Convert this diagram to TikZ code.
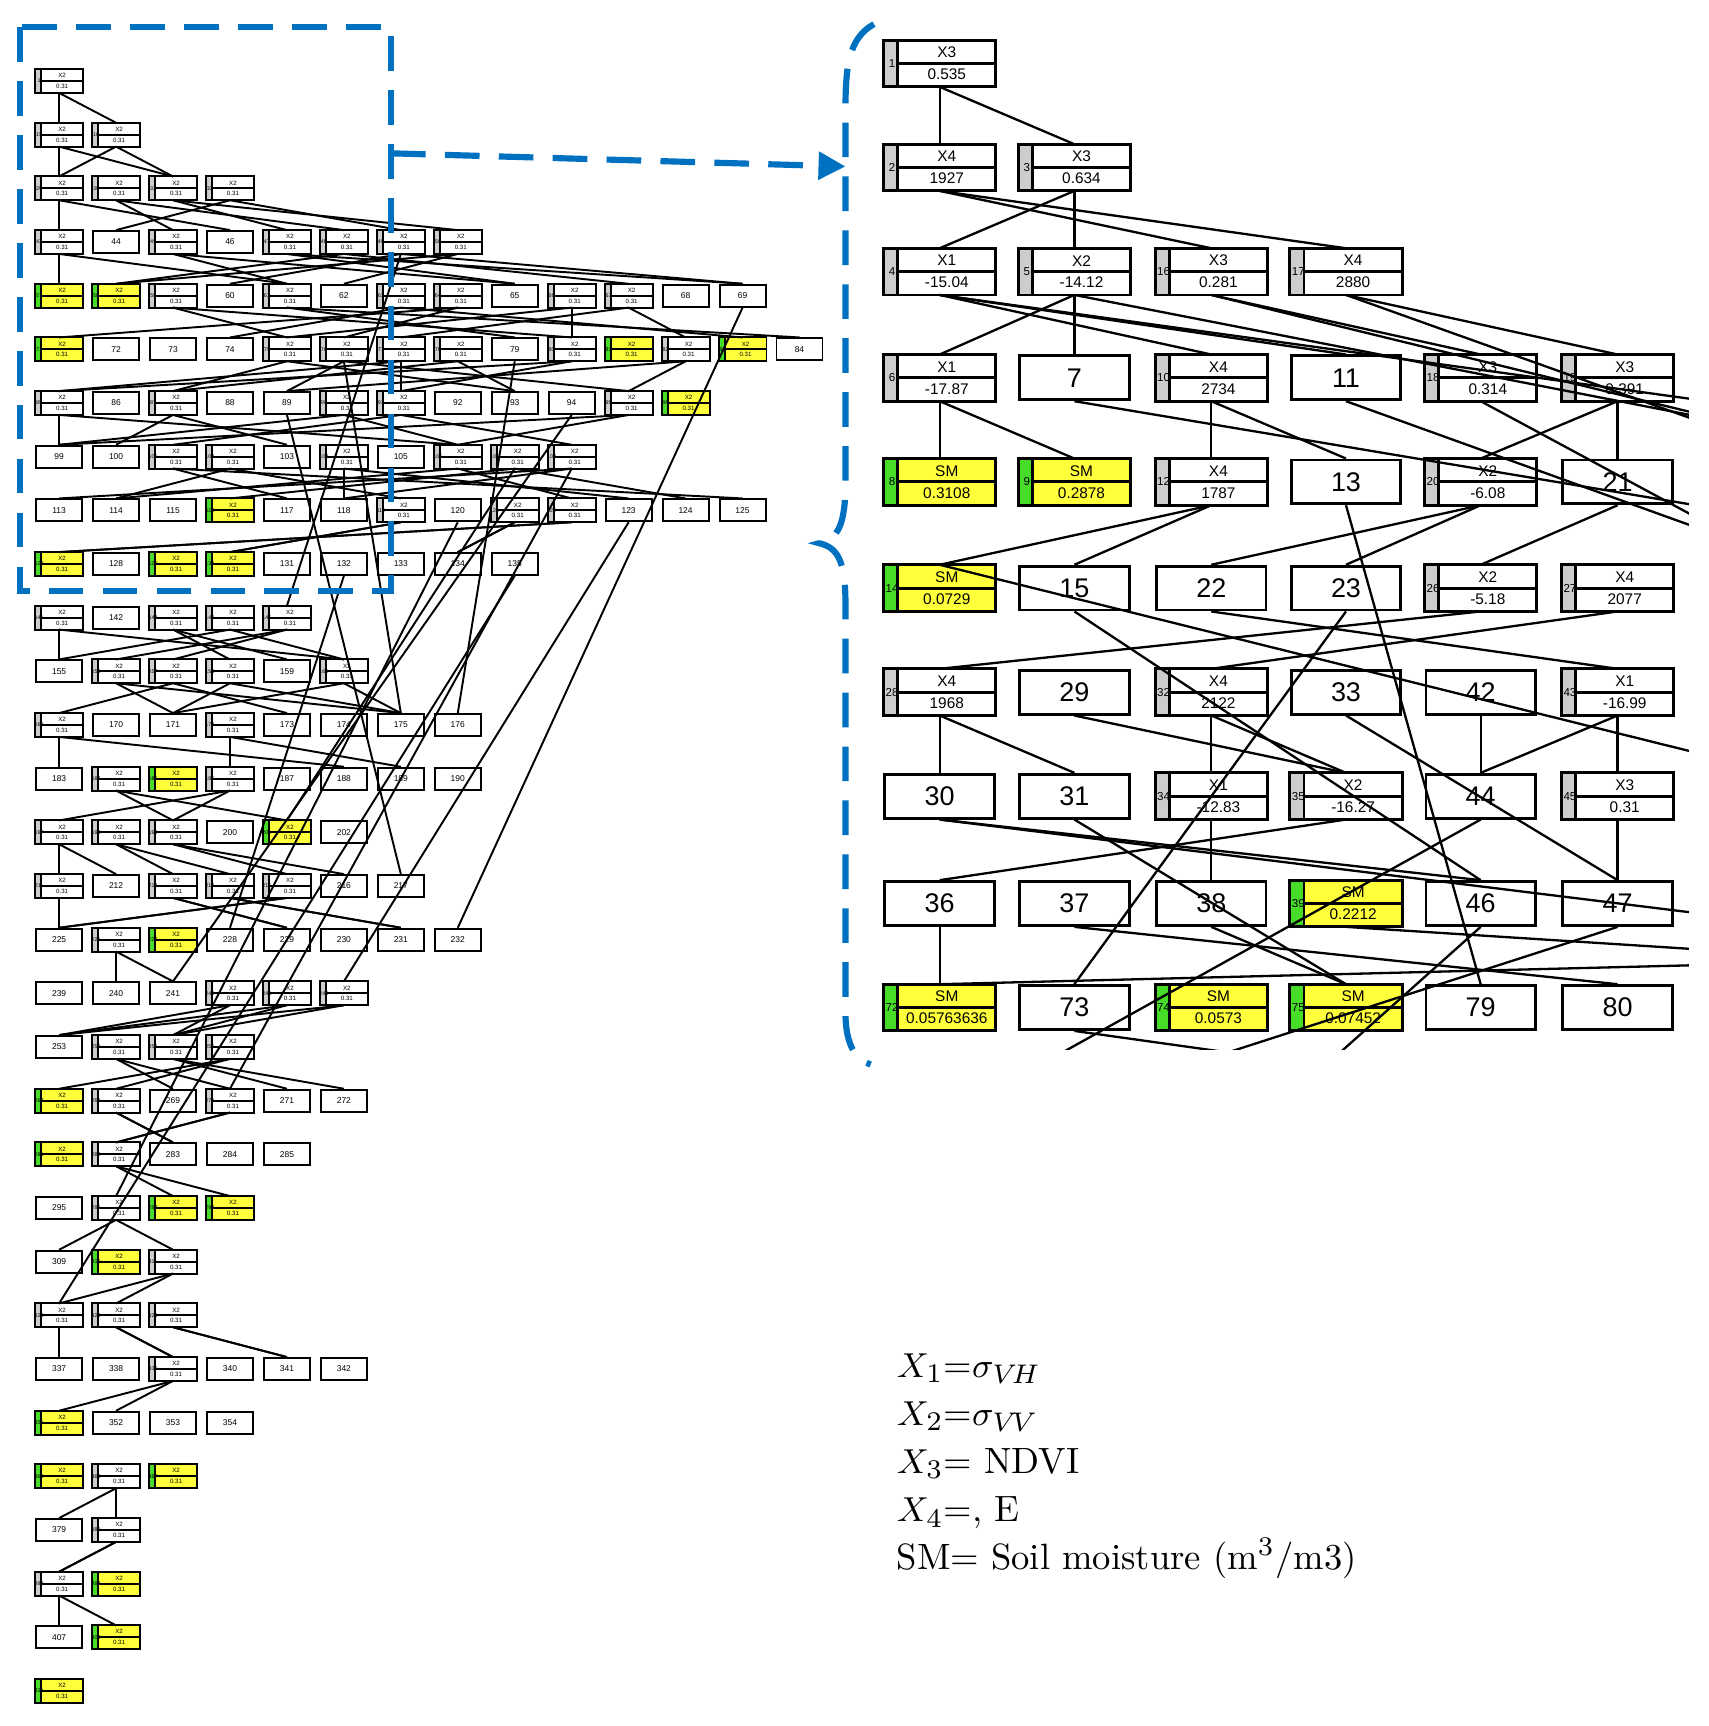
\documentclass[tikz,border=0pt]{standalone}
\usepackage{fontspec}
\setsansfont{Liberation Sans}
\usetikzlibrary{arrows.meta}
\definecolor{dblue}{RGB}{0,112,192}
\definecolor{bxyel}{RGB}{255,255,60}
\definecolor{bxgrn}{RGB}{70,220,40}
\definecolor{bxgry}{RGB}{205,205,205}
\def\tyP{p}\def\tyG{g}\def\tyY{y}
\def\bxfs{6}\def\bxfss{3.6}\def\bxfsn{3}
% name, cx, cy, w, h, type, num, top, bottom
\newcommand\bx[9]{%
  \edef\bxtype{#6}%
  \ifx\bxtype\tyP
    \node[draw,fill=white,minimum width={#4*0.01cm},minimum height={#5*0.01cm},inner sep=0pt,
      font=\sffamily\fontsize{\bxfs}{\bxfs}\selectfont] (#1) at (#2,#3) {#7};
  \else
    \ifx\bxtype\tyY\def\bxmain{bxyel}\def\bxstrip{bxgrn}\else\def\bxmain{white}\def\bxstrip{bxgry}\fi
    \node[fill=\bxmain,minimum width={#4*0.01cm},minimum height={#5*0.01cm},inner sep=0pt] (#1) at (#2,#3) {};
    \fill[\bxstrip] (#1.north west) rectangle ([xshift={#4*0.0013cm}]#1.south west);
    \draw ([xshift={#4*0.0013cm}]#1.north west) -- ([xshift={#4*0.0013cm}]#1.south west);
    \draw ([xshift={#4*0.0013cm}]#1.west) -- (#1.east);
    \draw (#1.north west) rectangle (#1.south east);
    \node[font=\sffamily\fontsize{\bxfsn}{\bxfsn}\selectfont,inner sep=0pt] (#1n) at ({#2-#4/2+#4*0.065},#3) {#7};
    \node[font=\sffamily\fontsize{\bxfss}{\bxfss}\selectfont,inner sep=0pt] (#1t) at ({#2+#4*0.065},{#3-#5/4}) {#8};
    \node[font=\sffamily\fontsize{\bxfss}{\bxfss}\selectfont,inner sep=0pt] (#1b) at ({#2+#4*0.065},{#3+#5/4}) {#9};
  \fi}
\def\counts{{1,2,4,8,13,14,12,10,13,9,5,6,8,8,6,7,8,6,4,6,5,4,3,3,6,4,3,2,2,2,1}}
\newcommand\leftrow[2]{\foreach \t [count=\c from 0] in {#2}{%
  \pgfmathsetmacro\cx{54+52*\c}\pgfmathsetmacro\cy{74+49*#1}\pgfmathtruncatemacro\nm{#1*14+\c+1}%
  \bx{L#1-\c}{\cx}{\cy}{42}{20}{\t}{\nm}{X2}{0.31}}}
\newcommand\leftedges[2]{\foreach \t [count=\c from 0] in {#2}{%
  \if\t g%
    \pgfmathtruncatemacro\nn{\counts[#1+1]}%
    \pgfmathtruncatemacro\rn{#1+1}%
    \pgfmathtruncatemacro\ka{mod(2*\c,\nn)}%
    \pgfmathtruncatemacro\kb{mod(2*\c+1+#1,\nn)}%
    \draw[edge] (L#1-\c.south) -- (L\rn-\ka.north);
    \draw[edge] (L#1-\c.south) -- (L\rn-\kb.north);
  \fi}}
\def\rcx{{858,981,1106,1229,1352,1477}}
\def\rcy{{58,153,248,345,440,537,632,727,825,920}}
\newcommand\RC[7]{\pgfmathsetmacro\cx{\rcx[#2]}\pgfmathsetmacro\cy{\rcy[#3]}%
  \bx{R#1}{\cx}{\cy}{100}{40}{#4}{#5}{#6}{#7}}
\begin{document}
\begin{tikzpicture}[x=0.01cm,y=-0.01cm,edge/.style={line width=0.5pt},line width=0.5pt]
\useasboundingbox (0,0) rectangle (1560,1576);
% ---------- left overview ----------
\begin{scope}
\def\bxfs{2.2}\def\bxfss{1.6}\def\bxfsn{1.4}
\leftrow{0}{g}
\leftrow{1}{g,g}
\leftrow{2}{g,g,g,g}
\leftrow{3}{g,p,g,p,g,g,g,g}
\leftrow{4}{y,y,g,p,g,p,g,g,p,g,g,p,p}
\leftrow{5}{y,p,p,p,g,g,g,g,p,g,y,g,y,p}
\leftrow{6}{g,p,g,p,p,g,g,p,p,p,g,y}
\leftrow{7}{p,p,g,g,p,g,p,g,g,g}
\leftrow{8}{p,p,p,y,p,p,g,p,g,g,p,p,p}
\leftrow{9}{y,p,y,y,p,p,p,p,p}
\leftrow{10}{g,p,g,g,g}
\leftrow{11}{p,g,g,g,p,g}
\leftrow{12}{g,p,p,g,p,p,p,p}
\leftrow{13}{p,g,y,g,p,p,p,p}
\leftrow{14}{g,g,g,p,y,p}
\leftrow{15}{g,p,g,g,g,p,p}
\leftrow{16}{p,g,y,p,p,p,p,p}
\leftrow{17}{p,p,p,g,g,g}
\leftrow{18}{p,g,g,g}
\leftrow{19}{y,g,p,g,p,p}
\leftrow{20}{y,g,p,p,p}
\leftrow{21}{p,g,y,y}
\leftrow{22}{p,y,g}
\leftrow{23}{g,g,g}
\leftrow{24}{p,p,g,p,p,p}
\leftrow{25}{y,p,p,p}
\leftrow{26}{y,g,y}
\leftrow{27}{p,g}
\leftrow{28}{g,y}
\leftrow{29}{p,y}
\leftrow{30}{y}
\leftedges{0}{g}
\leftedges{1}{g,g}
\leftedges{2}{g,g,g,g}
\leftedges{3}{g,p,g,p,g,g,g,g}
\leftedges{4}{y,y,g,p,g,p,g,g,p,g,g,p,p}
\leftedges{5}{y,p,p,p,g,g,g,g,p,g,y,g,y,p}
\leftedges{6}{g,p,g,p,p,g,g,p,p,p,g,y}
\leftedges{7}{p,p,g,g,p,g,p,g,g,g}
\leftedges{8}{p,p,p,y,p,p,g,p,g,g,p,p,p}
\leftedges{9}{y,p,y,y,p,p,p,p,p}
\leftedges{10}{g,p,g,g,g}
\leftedges{11}{p,g,g,g,p,g}
\leftedges{12}{g,p,p,g,p,p,p,p}
\leftedges{13}{p,g,y,g,p,p,p,p}
\leftedges{14}{g,g,g,p,y,p}
\leftedges{15}{g,p,g,g,g,p,p}
\leftedges{16}{p,g,y,p,p,p,p,p}
\leftedges{17}{p,p,p,g,g,g}
\leftedges{18}{p,g,g,g}
\leftedges{19}{y,g,p,g,p,p}
\leftedges{20}{y,g,p,p,p}
\leftedges{21}{p,g,y,y}
\leftedges{22}{p,y,g}
\leftedges{23}{g,g,g}
\leftedges{24}{p,p,g,p,p,p}
\leftedges{25}{y,p,p,p}
\leftedges{26}{y,g,y}
\leftedges{27}{p,g}
\leftedges{28}{g,y}
\leftedges{29}{p,y}
\draw[edge] (L9-8.south) -- (L23-0.north);
\draw[edge] (L8-7.south) -- (L21-1.north);
\draw[edge] (L6-9.south) -- (L17-2.north);
\draw[edge] (L9-5.south) -- (L16-3.north);
\draw[edge] (L7-8.south) -- (L14-4.north);
\draw[edge] (L5-8.south) -- (L12-7.north);
\draw[edge] (L3-6.south) -- (L10-4.north);
\draw[edge] (L5-5.south) -- (L12-6.north);
\draw[edge] (L6-4.south) -- (L15-6.north);
\draw[edge] (L8-10.south) -- (L17-5.north);
\draw[edge] (L4-12.south) -- (L16-7.north);
\draw[edge] (L7-9.south) -- (L19-3.north);
\end{scope}
% ---------- dashed frame and arrow ----------
\draw[dblue,line width=1.6pt,dash pattern=on 9pt off 5pt] (18,25) rectangle (357,540);
\coordinate (a1) at (357,140);
\coordinate (a2) at (772,152);
\draw[dblue,line width=1.6pt,dash pattern=on 9pt off 5pt,-{Triangle[length=7pt,width=7pt]}] (a1) -- (a2);
\draw[dblue,line width=1.6pt,dash pattern=on 9pt off 5pt]
  (798,22) .. controls (775,35) and (772,60) .. (772,100) -- (772,440)
  .. controls (772,480) and (765,492) .. (748,496)
  .. controls (765,500) and (772,512) .. (772,552) -- (772,925)
  .. controls (772,955) and (782,968) .. (795,972);
% ---------- right zoom panel ----------
\begin{scope}[line width=0.75pt,edge/.style={line width=0.6pt}]
\clip (800,28) rectangle (1542,958);
\def\bxfs{7}\def\bxfss{4}\def\bxfsn{3}
\RC{1}{0}{0}{g}{1}{X3}{0.535}
\RC{2}{0}{1}{g}{2}{X4}{1927}
\RC{3}{1}{1}{g}{3}{X3}{0.634}
\RC{4}{0}{2}{g}{4}{X1}{-15.04}
\RC{5}{1}{2}{g}{5}{X2}{-14.12}
\RC{16}{2}{2}{g}{16}{X3}{0.281}
\RC{17}{3}{2}{g}{17}{X4}{2880}
\RC{6}{0}{3}{g}{6}{X1}{-17.87}
\RC{7}{1}{3}{p}{7}{}{}
\RC{10}{2}{3}{g}{10}{X4}{2734}
\RC{11}{3}{3}{p}{11}{}{}
\RC{18}{4}{3}{g}{18}{X3}{0.314}
\RC{19}{5}{3}{g}{19}{X3}{0.391}
\RC{8}{0}{4}{y}{8}{SM}{0.3108}
\RC{9}{1}{4}{y}{9}{SM}{0.2878}
\RC{12}{2}{4}{g}{12}{X4}{1787}
\RC{13}{3}{4}{p}{13}{}{}
\RC{20}{4}{4}{g}{20}{X2}{-6.08}
\RC{21}{5}{4}{p}{21}{}{}
\RC{14}{0}{5}{y}{14}{SM}{0.0729}
\RC{15}{1}{5}{p}{15}{}{}
\RC{22}{2}{5}{p}{22}{}{}
\RC{23}{3}{5}{p}{23}{}{}
\RC{26}{4}{5}{g}{26}{X2}{-5.18}
\RC{27}{5}{5}{g}{27}{X4}{2077}
\RC{28}{0}{6}{g}{28}{X4}{1968}
\RC{29}{1}{6}{p}{29}{}{}
\RC{32}{2}{6}{g}{32}{X4}{2122}
\RC{33}{3}{6}{p}{33}{}{}
\RC{42}{4}{6}{p}{42}{}{}
\RC{43}{5}{6}{g}{43}{X1}{-16.99}
\RC{30}{0}{7}{p}{30}{}{}
\RC{31}{1}{7}{p}{31}{}{}
\RC{34}{2}{7}{g}{34}{X1}{-12.83}
\RC{35}{3}{7}{g}{35}{X2}{-16.27}
\RC{44}{4}{7}{p}{44}{}{}
\RC{45}{5}{7}{g}{45}{X3}{0.31}
\RC{36}{0}{8}{p}{36}{}{}
\RC{37}{1}{8}{p}{37}{}{}
\RC{38}{2}{8}{p}{38}{}{}
\RC{39}{3}{8}{y}{39}{SM}{0.2212}
\RC{46}{4}{8}{p}{46}{}{}
\RC{47}{5}{8}{p}{47}{}{}
\RC{72}{0}{9}{y}{72}{SM}{0.05763636}
\RC{73}{1}{9}{p}{73}{}{}
\RC{74}{2}{9}{y}{74}{SM}{0.0573}
\RC{75}{3}{9}{y}{75}{SM}{0.07452}
\RC{79}{4}{9}{p}{79}{}{}
\RC{80}{5}{9}{p}{80}{}{}
\foreach \a/\b in {1/2,1/3,3/4,3/5,2/16,2/17,5/6,5/7,4/10,4/11,16/18,17/19,6/8,6/9,10/12,10/13,
  19/20,19/21,12/14,12/15,20/22,20/23,21/26,28/30,28/31,32/34,32/35,43/44,43/45,34/38,36/72,45/47,
  13/79,15/46,23/73,31/75,42/44,29/35,33/47,37/80,26/28,27/32,22/43,35/36,38/75,30/46}
  \draw[edge] (R\a.south) -- (R\b.north);
\coordinate (o1) at (1600,372);
\coordinate (o2) at (1600,390);
\coordinate (o3) at (1600,402);
\coordinate (o4) at (1600,470);
\coordinate (o5) at (1600,500);
\coordinate (o6) at (1600,700);
\coordinate (o7) at (1600,840);
\coordinate (o8) at (1600,870);
\coordinate (o9) at (1600,880);
\coordinate (b1) at (900,1000);
\coordinate (b2) at (1000,1000);
\coordinate (b3) at (1180,1000);
\coordinate (b4) at (1400,1000);
\draw[edge] (R4.south) -- (o1);
\draw[edge] (R5.south) -- (o2);
\draw[edge] (R16.south) -- (o2);
\draw[edge] (R17.south) -- (o3);
\draw[edge] (R7.south) -- (o4);
\draw[edge] (R11.south) -- (o5);
\draw[edge] (R18.south) -- (o5);
\draw[edge] (R14.north) -- (o6);
\draw[edge] (R30.south) -- (o7);
\draw[edge] (R39.south) -- (o8);
\draw[edge] (R72.north) -- (o9);
\draw[edge] (R73.south) -- (b4);
\draw[edge] (R44.south) -- (b1);
\draw[edge] (R47.south) -- (b2);
\draw[edge] (R46.south) -- (b3);
\end{scope}
% ---------- legend ----------
\node[anchor=north west,align=left,font=\fontsize{9.5}{12.5}\selectfont,inner sep=0pt] (legend) at (818,1235)
  {$X_1$=$\sigma_{V\!H}$\\ $X_2$=$\sigma_{V\!V}$\\ $X_3$= NDVI\\ $X_4$=, E\\ SM= Soil moisture (m$^3$/m3)};
\end{tikzpicture}
\end{document}
